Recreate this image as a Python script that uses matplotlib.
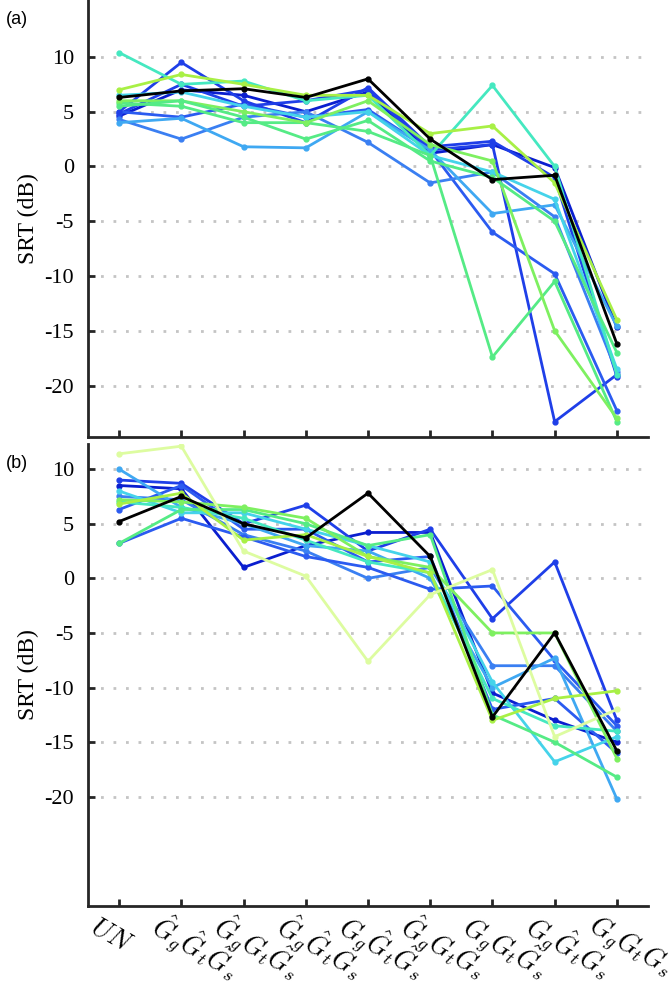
import matplotlib
matplotlib.use("Agg")
import matplotlib.pyplot as plt
import matplotlib.transforms as mtransforms

plt.rcParams['font.family'] = 'serif'
plt.rcParams['font.serif'] = ['Liberation Serif', 'DejaVu Serif']
plt.rcParams['mathtext.fontset'] = 'cm'

# x categories (UN + 8 combinations of estimated/true gains)
labels = ['$UN$',
          r'$\hat{G}_g\hat{G}_t\hat{G}_s$',
          r'$\hat{G}_gG_t\hat{G}_s$',
          r'$\hat{G}_g\hat{G}_tG_s$',
          r'$G_g\hat{G}_t\hat{G}_s$',
          r'$\hat{G}_gG_tG_s$',
          r'$G_gG_t\hat{G}_s$',
          r'$G_g\hat{G}_tG_s$',
          r'$G_gG_tG_s$']
xpos = list(range(len(labels)))

# colours of the individual listeners
colors = ['#000000', '#0a1ecf', '#1f3fe8', '#2b5bf0', '#3a7ff2', '#3fa8f2',
          '#45d3ea', '#45e8c0', '#55eb85', '#7ef060', '#a8f045', '#ddfca0']

# panel (a) SRTs (dB), one list per listener
a_black  = [6.3, 6.9, 7.1, 6.3, 8.0, 2.5, -1.2, -0.8, -16.2]
a_dkblue = [4.6, 7.0, 6.5, 5.0, 6.8, 1.2, 2.0, -0.1, -14.7]
a_blue   = [4.8, 7.5, 5.5, 6.0, 7.0, 1.5, 2.0, -23.3, -19.0]
a_blue2  = [5.0, 4.5, 5.7, 4.5, 5.2, 1.5, -6.0, -9.8, -22.3]
a_blue3  = [5.0, 9.5, 6.0, 4.0, 7.2, 1.8, 2.3, -1.0, -19.2]
a_mblue  = [4.3, 2.5, 4.5, 5.0, 2.2, -1.5, -0.5, -4.6, -18.8]
a_lblue  = [4.0, 4.4, 1.8, 1.7, 5.0, 1.5, -4.3, -3.5, -14.6]
a_cyan   = [6.5, 6.8, 5.5, 4.5, 5.0, 1.0, -0.5, -3.0, -18.5]
a_turq   = [10.4, 7.5, 7.8, 6.0, 6.5, 1.0, 7.4, 0.0, -19.0]
a_green  = [5.8, 5.5, 4.0, 4.0, 3.2, 1.0, -17.4, -10.5, -23.3]
a_lgreen = [6.0, 6.0, 5.0, 4.0, 6.0, 2.0, 0.5, -15.0, -23.0]
a_green2 = [5.5, 6.0, 4.5, 2.5, 4.2, 0.5, -1.0, -5.0, -17.0]
a_ygreen = [7.0, 8.4, 7.5, 6.5, 6.5, 3.0, 3.7, -1.5, -14.0]

# panel (b)
b_black   = [5.2, 7.5, 5.0, 3.7, 7.8, 2.0, -12.7, -5.0, -15.8]
b_dkblue  = [8.5, 8.2, 1.0, 3.0, 4.2, 4.2, -10.5, -13.0, -15.0]
b_blue    = [9.0, 8.7, 5.0, 6.7, 2.5, 4.5, -3.7, 1.5, -13.0]
b_blue2   = [6.3, 8.5, 4.5, 4.5, 1.5, 2.0, -12.0, -11.0, -16.0]
b_mblue   = [7.5, 7.2, 4.0, 2.5, 0.0, 1.0, -8.0, -8.0, -14.0]
b_blue3   = [3.2, 5.5, 3.8, 2.0, 1.0, -1.0, -0.7, -7.5, -13.5]
b_lblue   = [10.0, 6.5, 5.0, 3.0, 2.5, 0.0, -10.0, -7.3, -20.2]
b_cyan    = [8.0, 6.0, 6.0, 4.5, 3.0, 1.5, -9.5, -16.8, -14.5]
b_turq    = [7.0, 6.5, 5.5, 3.5, 1.5, 0.5, -11.0, -13.5, -14.0]
b_green   = [3.2, 6.3, 6.3, 5.0, 3.0, 4.0, -12.5, -15.0, -18.2]
b_lgreen  = [7.2, 7.0, 6.5, 5.5, 2.0, 1.0, -5.0, -5.0, -16.5]
b_ygreen  = [6.8, 7.8, 3.5, 4.0, 2.0, 0.5, -13.0, -11.0, -10.3]
b_lyellow = [11.4, 12.1, 2.5, 0.2, -7.6, -1.5, 0.8, -14.5, -12.0]

series_a = [(a_dkblue, colors[1]), (a_blue, colors[2]), (a_blue2, colors[3]),
            (a_blue3, colors[2]), (a_mblue, colors[4]), (a_lblue, colors[5]),
            (a_cyan, colors[6]), (a_turq, colors[7]), (a_green, colors[8]),
            (a_lgreen, colors[9]), (a_green2, colors[8]), (a_ygreen, colors[10]),
            (a_black, colors[0])]
series_b = [(b_dkblue, colors[1]), (b_blue, colors[2]), (b_blue2, colors[3]),
            (b_mblue, colors[4]), (b_blue3, colors[3]), (b_lblue, colors[5]),
            (b_cyan, colors[6]), (b_turq, colors[7]), (b_green, colors[8]),
            (b_lgreen, colors[9]), (b_ygreen, colors[10]), (b_lyellow, colors[11]),
            (b_black, colors[0])]

fig = plt.figure(figsize=(6.72, 9.81), dpi=100)
ax_a = fig.add_axes([88/672, 1-437/981, 560/672, 437/981])
ax_b = fig.add_axes([88/672, 1-906/981, 560/672, (906-444)/981])

for ax, series, ylim, tag, tag_y in [(ax_a, series_a, (-24.7, 15.2), '(a)', 20),
                                     (ax_b, series_b, (-30, 12.3), '(b)', 463)]:
    for vals, col in series:
        ax.plot(xpos, vals, color=col, lw=2.0, marker='o', ms=3.5, zorder=3)
    ax.set_xlim(-0.5, 8.5)
    ax.set_ylim(*ylim)
    yt = [-20, -15, -10, -5, 0, 5, 10]
    ax.set_yticks(yt)
    ax.set_yticklabels([str(v) for v in yt], fontsize=16)
    for v in yt:
        ax.axhline(v, color='#c4c4c4', lw=2, ls=(0, (1, 3.5)), zorder=1)
    ax.set_xticks(xpos)
    for s in ['top', 'right']:
        ax.spines[s].set_visible(False)
    for s in ['left', 'bottom']:
        ax.spines[s].set_linewidth(2)
        ax.spines[s].set_color('#262626')
    ax.tick_params(direction='in', length=5, width=2, color='#262626', pad=10)
    ax.set_ylabel('SRT (dB)', fontsize=17, labelpad=4)
    fig.text(0.008, 1 - tag_y/981, tag, fontsize=13,
             family='Liberation Sans', va='center')

ax_a.set_xticklabels([])
ax_b.set_xticklabels(labels, fontsize=19, rotation=-30, ha='left', va='center',
                     rotation_mode='anchor')
shift = mtransforms.ScaledTranslation(-0.27, -0.05, fig.dpi_scale_trans)
for lab in ax_b.get_xticklabels():
    lab.set_transform(lab.get_transform() + shift)

fig.savefig('out.png', dpi=100)
